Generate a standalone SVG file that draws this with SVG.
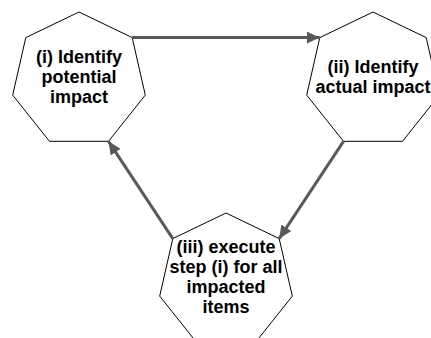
<svg xmlns="http://www.w3.org/2000/svg" width="431" height="338" viewBox="0 0 431 338">
  <style>
    .hept { fill: #ffffff; stroke: #000000; stroke-width: 1; }
    .lbl { font-family: "Liberation Sans", Arial, sans-serif; font-size: 18px; font-weight: bold; fill: #000000; text-anchor: middle; }
    .conn { fill: none; stroke: #595959; stroke-width: 3; }
  </style>
  <defs>
    <marker id="arrow" markerUnits="userSpaceOnUse" markerWidth="14" markerHeight="12" refX="13" refY="6" orient="auto">
      <path d="M0,0 L13,6 L0,12 z" fill="#595959"/>
    </marker>
    <!-- regular heptagon, radius 68, centred on the origin -->
    <polygon id="heptagon" points="0,-68 53.2,-42.4 66.3,15.1 29.5,61.3 -29.5,61.3 -66.3,15.1 -53.2,-42.4"/>
  </defs>

  <!-- labels are slightly stretched vertically: translate to baseline, then scale -->
  <g id="node-identify-potential">
    <use href="#heptagon" class="hept" transform="translate(79,80)"/>
    <text class="lbl" transform="translate(79,62.5) scale(1,1.05)">(i) Identify</text>
    <text class="lbl" transform="translate(79,82.5) scale(1,1.05)">potential</text>
    <text class="lbl" transform="translate(79,102.5) scale(1,1.05)">impact</text>
  </g>

  <g id="node-identify-actual">
    <use href="#heptagon" class="hept" transform="translate(373,80)"/>
    <text class="lbl" transform="translate(373,72.5) scale(1,1.05)">(ii) Identify</text>
    <text class="lbl" transform="translate(373,92.5) scale(1,1.05)">actual impact</text>
  </g>

  <g id="node-execute-step">
    <use href="#heptagon" class="hept" transform="translate(226,281)"/>
    <text class="lbl" transform="translate(226,253) scale(1,1.05)">(iii) execute</text>
    <text class="lbl" transform="translate(226,273) scale(1,1.05)">step (i) for all</text>
    <text class="lbl" transform="translate(226,293) scale(1,1.05)">impacted</text>
    <text class="lbl" transform="translate(226,313) scale(1,1.05)">items</text>
  </g>

  <g id="connectors">
    <line class="conn" x1="132.2" y1="37.6" x2="319.8" y2="37.6" marker-end="url(#arrow)"/>
    <line class="conn" x1="343.5" y1="141.3" x2="279.2" y2="238.6" marker-end="url(#arrow)"/>
    <line class="conn" x1="172.8" y1="238.6" x2="108.5" y2="141.3" marker-end="url(#arrow)"/>
  </g>
</svg>
